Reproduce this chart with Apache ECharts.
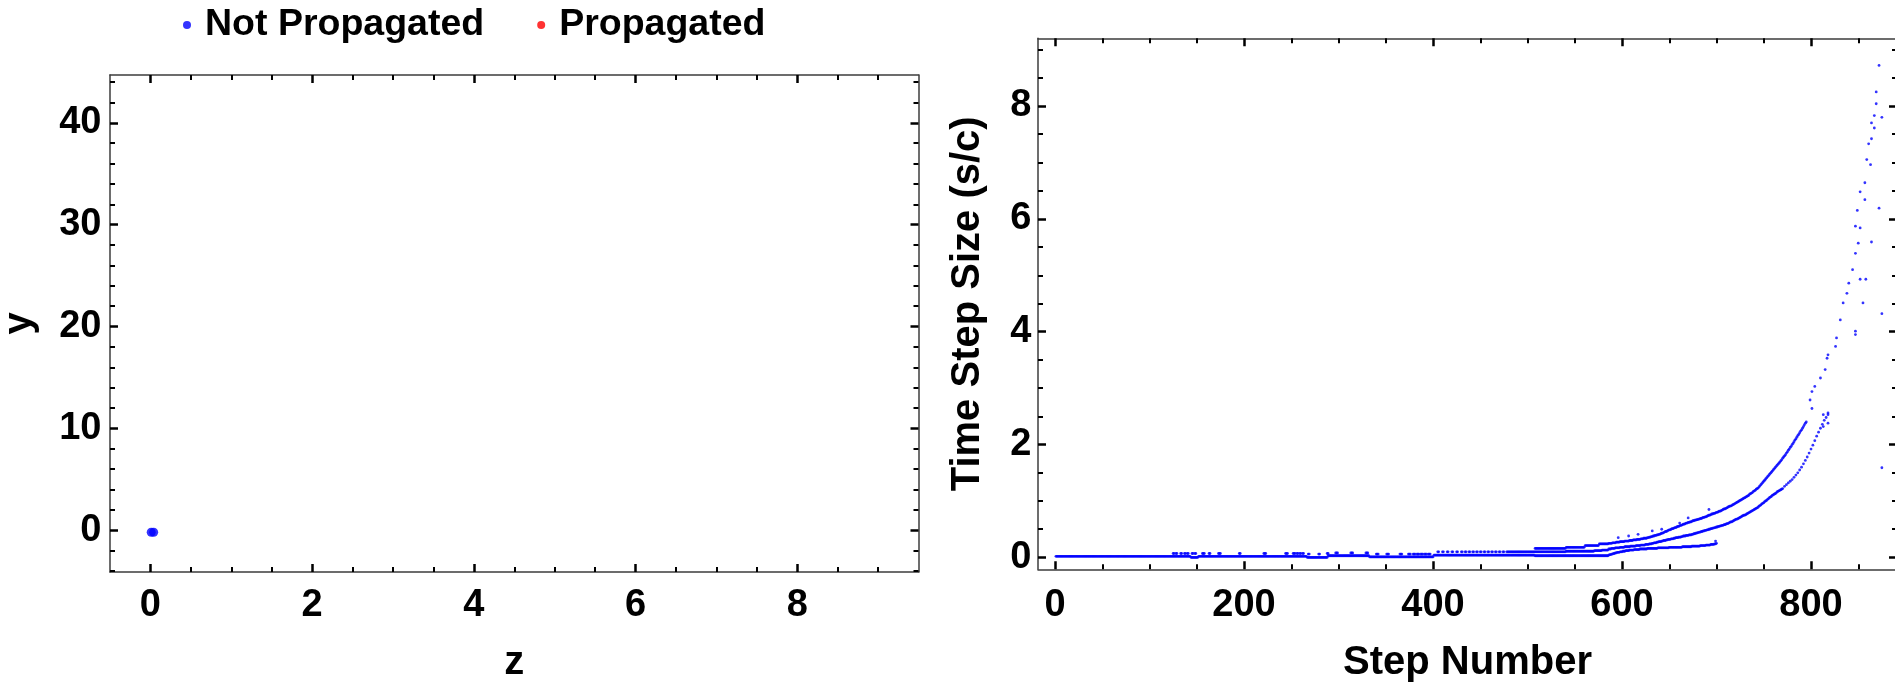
<!DOCTYPE html>
<html>
<head>
<meta charset="utf-8">
<script src="https://cdn.jsdelivr.net/npm/echarts@6/dist/echarts.min.js"></script>
<style>
  html, body { margin: 0; padding: 0; background: #ffffff; }
  #chart { width: 1895px; height: 683px; }
</style>
</head>
<body>
<div id="chart"></div>
<script>
// ---------- Left panel: particle positions ----------
const notPropagatedZ = [0.01, 0.04];
const notPropagatedY = [-0.2, -0.2];
const propagatedZ = [];
const propagatedY = [];

// ---------- Right panel: time step size per step ----------
// Stretches where the step size stays put: [first step, last step, size]
const flatRuns = [
  // base level
  [1, 143, 0.02], [144, 151, 0.0], [152, 266, 0.02], [267, 288, 0.0],
  [289, 332, 0.03], [333, 400, 0.01], [401, 507, 0.04], [508, 585, 0.03],
  // short excursions above the base level
  [125, 126, 0.07], [128, 129, 0.07], [133, 134, 0.07], [137, 138, 0.07], [140, 141, 0.07],
  [145, 146, 0.07], [148, 149, 0.07], [156, 158, 0.07], [163, 164, 0.07], [173, 175, 0.07],
  [195, 196, 0.07], [221, 223, 0.07], [244, 246, 0.07], [252, 254, 0.07], [256, 257, 0.07],
  [259, 260, 0.07], [262, 263, 0.07], [268, 269, 0.06], [279, 280, 0.06], [288, 289, 0.07],
  [297, 299, 0.08], [313, 315, 0.08], [329, 331, 0.08], [340, 342, 0.06], [351, 353, 0.06],
  [365, 367, 0.06], [374, 376, 0.06], [379, 381, 0.06], [383, 385, 0.06], [387, 389, 0.06],
  [391, 393, 0.06], [395, 397, 0.06],
  [405, 406, 0.10], [410, 411, 0.10], [415, 416, 0.10], [420, 421, 0.10], [425, 426, 0.10],
  [430, 431, 0.10], [434, 435, 0.10], [438, 439, 0.10], [442, 443, 0.10], [446, 447, 0.10],
  [450, 451, 0.10], [454, 455, 0.10], [458, 459, 0.10], [462, 463, 0.10], [466, 467, 0.10],
  [470, 471, 0.10], [474, 475, 0.10], [478, 480, 0.10],
  // second and third levels of the widening band
  [481, 540, 0.10], [541, 570, 0.11], [571, 578, 0.12], [579, 585, 0.13],
  [508, 540, 0.16], [541, 560, 0.18], [561, 575, 0.21], [576, 585, 0.24]
];

// Three diverging tracks, one value per step from trackStart onward
const trackStart = 586;
const upperSizes = [
  0.25, 0.25, 0.25, 0.25, 0.26, 0.26, 0.26, 0.26, 0.27, 0.27,
  0.27, 0.27, 0.28, 0.28, 0.28, 0.28, 0.28, 0.29, 0.29, 0.29,
  0.29, 0.29, 0.30, 0.30, 0.30, 0.30, 0.31, 0.31, 0.31, 0.31,
  0.32, 0.32, 0.32, 0.32, 0.33, 0.33, 0.33, 0.34, 0.34, 0.34,
  0.34, 0.35, 0.35, 0.36, 0.36, 0.37, 0.37, 0.38, 0.38, 0.39,
  0.39, 0.40, 0.40, 0.41, 0.41, 0.42, 0.43, 0.43, 0.44, 0.45,
  0.46, 0.46, 0.47, 0.48, 0.49, 0.49, 0.50, 0.51, 0.51, 0.52,
  0.53, 0.53, 0.54, 0.55, 0.55, 0.56, 0.57, 0.57, 0.58, 0.59,
  0.59, 0.60, 0.61, 0.61, 0.62, 0.62, 0.63, 0.63, 0.64, 0.65,
  0.65, 0.66, 0.66, 0.67, 0.67, 0.68, 0.68, 0.69, 0.69, 0.70,
  0.71, 0.71, 0.72, 0.72, 0.73, 0.74, 0.75, 0.75, 0.76, 0.77,
  0.77, 0.78, 0.78, 0.79, 0.80, 0.80, 0.81, 0.82, 0.82, 0.83,
  0.84, 0.85, 0.86, 0.86, 0.87, 0.88, 0.89, 0.90, 0.91, 0.91,
  0.92, 0.93, 0.94, 0.95, 0.96, 0.97, 0.98, 0.99, 1.00, 1.01,
  1.02, 1.03, 1.04, 1.05, 1.06, 1.07, 1.08, 1.09, 1.10, 1.12,
  1.13, 1.14, 1.15, 1.17, 1.18, 1.19, 1.21, 1.22, 1.23, 1.25,
  1.27, 1.29, 1.31, 1.33, 1.35, 1.37, 1.39, 1.41, 1.43, 1.45,
  1.47, 1.49, 1.51, 1.53, 1.55, 1.57, 1.59, 1.61, 1.63, 1.65,
  1.67, 1.69, 1.71, 1.73, 1.76, 1.78, 1.80, 1.82, 1.85, 1.87,
  1.90, 1.92, 1.95, 1.97, 2.00, 2.02, 2.05, 2.08, 2.10, 2.13,
  2.16, 2.18, 2.21, 2.24, 2.26, 2.29, 2.32, 2.35, 2.38, 2.40
];
const middleSizes = [
  0.15, 0.15, 0.15, 0.16, 0.16, 0.16, 0.16, 0.17, 0.17, 0.17,
  0.17, 0.17, 0.18, 0.18, 0.18, 0.18, 0.18, 0.19, 0.19, 0.19,
  0.19, 0.19, 0.19, 0.20, 0.20, 0.20, 0.20, 0.20, 0.20, 0.21,
  0.21, 0.21, 0.21, 0.21, 0.22, 0.22, 0.22, 0.22, 0.22, 0.23,
  0.23, 0.23, 0.23, 0.24, 0.24, 0.24, 0.25, 0.25, 0.26, 0.26,
  0.26, 0.27, 0.27, 0.28, 0.28, 0.28, 0.29, 0.29, 0.30, 0.30,
  0.30, 0.31, 0.31, 0.32, 0.32, 0.32, 0.33, 0.33, 0.33, 0.34,
  0.34, 0.35, 0.35, 0.35, 0.36, 0.36, 0.36, 0.37, 0.37, 0.38,
  0.38, 0.38, 0.39, 0.39, 0.39, 0.40, 0.40, 0.40, 0.41, 0.41,
  0.42, 0.42, 0.43, 0.43, 0.44, 0.44, 0.45, 0.45, 0.46, 0.46,
  0.47, 0.47, 0.48, 0.48, 0.49, 0.49, 0.50, 0.50, 0.51, 0.51,
  0.52, 0.52, 0.53, 0.53, 0.54, 0.54, 0.55, 0.55, 0.56, 0.56,
  0.57, 0.57, 0.58, 0.58, 0.59, 0.60, 0.60, 0.61, 0.62, 0.63,
  0.63, 0.64, 0.65, 0.66, 0.67, 0.68, 0.68, 0.69, 0.70, 0.71,
  0.72, 0.73, 0.74, 0.75, 0.75, 0.76, 0.77, 0.78, 0.79, 0.80,
  0.81, 0.82, 0.83, 0.84, 0.85, 0.86, 0.87, 0.88, 0.89, 0.91,
  0.92, 0.93, 0.95, 0.96, 0.97, 0.99, 1.00, 1.01, 1.03, 1.04,
  1.06, 1.07, 1.08, 1.10, 1.11, 1.12, 1.13, 1.14, 1.16, 1.17,
  1.18, 1.19, 1.20, 1.21, 1.22
];
const lowerSizes = [
  0.04, 0.05, 0.05, 0.06, 0.06, 0.07, 0.07, 0.08, 0.08, 0.09,
  0.09, 0.09, 0.10, 0.10, 0.10, 0.11, 0.11, 0.11, 0.12, 0.12,
  0.12, 0.12, 0.13, 0.13, 0.13, 0.13, 0.13, 0.14, 0.14, 0.14,
  0.14, 0.14, 0.14, 0.15, 0.15, 0.15, 0.15, 0.15, 0.15, 0.15,
  0.15, 0.16, 0.16, 0.16, 0.16, 0.16, 0.16, 0.16, 0.16, 0.16,
  0.16, 0.16, 0.17, 0.17, 0.17, 0.17, 0.17, 0.17, 0.17, 0.17,
  0.17, 0.17, 0.17, 0.17, 0.18, 0.18, 0.18, 0.18, 0.18, 0.18,
  0.18, 0.18, 0.18, 0.18, 0.18, 0.18, 0.18, 0.18, 0.19, 0.19,
  0.19, 0.19, 0.19, 0.19, 0.19, 0.19, 0.19, 0.19, 0.20, 0.20,
  0.20, 0.20, 0.20, 0.20, 0.20, 0.20, 0.20, 0.21, 0.21, 0.21,
  0.21, 0.21, 0.21, 0.22, 0.22, 0.22, 0.22, 0.22, 0.23, 0.23,
  0.23, 0.23, 0.24, 0.24, 0.25
];
// Sparser late part of the middle track: [step, size]
const middleTail = [
  [772, 1.26], [774, 1.29], [776, 1.32], [778, 1.35], [780, 1.38], [782, 1.42],
  [784, 1.46], [786, 1.50], [788, 1.55], [790, 1.60], [792, 1.66], [794, 1.72],
  [796, 1.78], [798, 1.85], [800, 1.92], [802, 1.99], [804, 2.07], [806, 2.15],
  [808, 2.22], [810, 2.29], [812, 2.36], [814, 2.43], [816, 2.48], [818, 2.53],
  [813, 2.53], [813, 2.32], [818, 2.56], [818, 2.38]
];
// Final steep climb of the upper track: [step, size]
const upperTail = [
  [799, 2.79], [801, 2.64], [801, 2.94], [804, 3.03], [810, 3.18], [815, 3.33],
  [817, 3.53], [818, 3.59], [826, 3.74], [827, 3.89], [831, 4.21], [834, 4.51],
  [838, 4.68], [840, 4.86], [844, 5.10], [847, 5.39], [850, 5.57], [847, 5.87],
  [852, 5.84], [849, 6.15], [857, 6.34], [852, 6.48], [857, 6.64], [859, 7.05],
  [863, 6.96], [861, 7.33], [864, 7.42], [867, 7.61], [864, 7.70], [867, 7.83],
  [875, 7.80], [869, 8.04], [869, 8.25], [872, 8.72]
];
// Isolated steps away from the tracks: [step, size]
const strayPoints = [
  [596, 0.35], [607, 0.38], [617, 0.41], [632, 0.47], [642, 0.50], [661, 0.61],
  [670, 0.70], [692, 0.85], [699, 0.29],
  [864, 5.59], [852, 4.93], [858, 4.93], [855, 4.51], [875, 4.32], [847, 4.01],
  [847, 3.95], [872, 6.19], [875, 1.59]
];

// ---------- Tick values ----------
const zMajorTicks = [0, 2, 4, 6, 8];
const zMinorTicks = [0.5, 1, 1.5, 2.5, 3, 3.5, 4.5, 5, 5.5, 6.5, 7, 7.5, 8.5, 9];
const yMajorTicks = [0, 10, 20, 30, 40];
const yMinorTicks = [-4, -2, 2, 4, 6, 8, 12, 14, 16, 18, 22, 24, 26, 28, 32, 34, 36, 38, 42, 44];
const stepMajorTicks = [0, 200, 400, 600, 800];
const stepMinorTicks = [50, 100, 150, 250, 300, 350, 450, 500, 550, 650, 700, 750, 850];
const sizeMajorTicks = [0, 2, 4, 6, 8];
const sizeMinorTicks = [0.5, 1, 1.5, 2.5, 3, 3.5, 4.5, 5, 5.5, 6.5, 7, 7.5, 8.5, 9];

// ---------- Assemble series data ----------
const leftBlue = notPropagatedZ.map((z, i) => [z, notPropagatedY[i]]);
const leftRed = propagatedZ.map((z, i) => [z, propagatedY[i]]);

const stepData = [];
flatRuns.forEach(([from, to, size]) => {
  for (let s = from; s <= to; s++) stepData.push([s, size]);
});
[upperSizes, middleSizes, lowerSizes].forEach(track => {
  track.forEach((size, i) => stepData.push([trackStart + i, size]));
});
middleTail.concat(upperTail, strayPoints).forEach(p => stepData.push(p));

// ---------- Styling helpers ----------
const FONT = '"Liberation Sans", Arial, Helvetica, sans-serif';
const FRAME = '#3c3c3c';

function frameAxis(gridIndex, position, range, ticks, opts) {
  const o = opts || {};
  return {
    type: 'value',
    gridIndex: gridIndex,
    position: position,
    min: range[0],
    max: range[1],
    name: o.name || '',
    nameLocation: 'middle',
    nameGap: o.nameGap || 0,
    nameRotate: o.nameRotate,
    nameTextStyle: {
      fontFamily: FONT, fontWeight: 'bold', fontSize: 40, color: '#000'
    },
    axisLine: {
      show: !!o.line, onZero: false,
      lineStyle: { color: FRAME, width: 1.5 }
    },
    axisTick: {
      show: true, inside: true, length: o.minor ? 5 : 8,
      customValues: ticks,
      lineStyle: { color: '#000', width: o.minor ? 2 : 2.5 }
    },
    minorTick: { show: false },
    splitLine: { show: false },
    axisLabel: o.labels ? {
      show: true, customValues: ticks, margin: o.margin,
      fontFamily: FONT, fontWeight: 'bold', fontSize: 38, color: '#000',
      formatter: v => String(v)
    } : { show: false },
    axisPointer: { show: false },
    silent: true
  };
}

const zRange = [-0.5, 9.5];
const yRange = [-4.1, 44.7];
const stepRange = [-18, 891];
const sizeRange = [-0.21, 9.2];

const option = {
  backgroundColor: '#ffffff',
  animation: false,
  legend: {
    data: ['Not Propagated', 'Propagated'],
    left: 183, top: 6, padding: 0,
    itemGap: 53, itemWidth: 26, itemHeight: 8,
    icon: 'circle',
    selectedMode: false,
    textStyle: { fontFamily: FONT, fontWeight: 'bold', fontSize: 37.5, color: '#000' }
  },
  grid: [
    { left: 110, top: 75, width: 808.5, height: 497, outerBoundsMode: 'none', containLabel: false },
    { left: 1038, top: 38.3, width: 859, height: 531, outerBoundsMode: 'none', containLabel: false }
  ],
  xAxis: [
    frameAxis(0, 'bottom', zRange, zMajorTicks, { line: true, labels: true, margin: 15, name: 'z', nameGap: 71 }),
    frameAxis(0, 'bottom', zRange, zMinorTicks, { minor: true }),
    frameAxis(0, 'top', zRange, zMajorTicks, { line: true }),
    frameAxis(0, 'top', zRange, zMinorTicks, { minor: true }),
    frameAxis(1, 'bottom', stepRange, stepMajorTicks, { line: true, labels: true, margin: 17, name: 'Step Number', nameGap: 74 }),
    frameAxis(1, 'bottom', stepRange, stepMinorTicks, { minor: true }),
    frameAxis(1, 'top', stepRange, stepMajorTicks, { line: true }),
    frameAxis(1, 'top', stepRange, stepMinorTicks, { minor: true })
  ],
  yAxis: [
    frameAxis(0, 'left', yRange, yMajorTicks, { line: true, labels: true, margin: 8.5, name: 'y', nameGap: 70, nameRotate: 90 }),
    frameAxis(0, 'left', yRange, yMinorTicks, { minor: true }),
    frameAxis(0, 'right', yRange, yMajorTicks, { line: true }),
    frameAxis(0, 'right', yRange, yMinorTicks, { minor: true }),
    frameAxis(1, 'left', sizeRange, sizeMajorTicks, { line: true, labels: true, margin: 6.5, name: 'Time Step Size (s/c)', nameGap: 50, nameRotate: 90 }),
    frameAxis(1, 'left', sizeRange, sizeMinorTicks, { minor: true }),
    frameAxis(1, 'right', sizeRange, sizeMajorTicks, { line: true }),
    frameAxis(1, 'right', sizeRange, sizeMinorTicks, { minor: true })
  ],
  series: [
    {
      name: 'Not Propagated', type: 'scatter', xAxisIndex: 0, yAxisIndex: 0,
      symbol: 'circle', symbolSize: 9, data: leftBlue,
      itemStyle: { color: '#0000ff' }, emphasis: { disabled: true }, silent: true
    },
    {
      name: 'Propagated', type: 'scatter', xAxisIndex: 0, yAxisIndex: 0,
      symbol: 'circle', symbolSize: 9, data: leftRed,
      itemStyle: { color: '#ff0000' }, emphasis: { disabled: true }, silent: true
    },
    {
      name: 'Time Step Size', type: 'scatter', xAxisIndex: 4, yAxisIndex: 4,
      symbol: 'circle', symbolSize: 2.8, data: stepData, large: false,
      itemStyle: { color: '#0000ff' }, emphasis: { disabled: true }, silent: true
    }
  ]
};

const chart = echarts.init(document.getElementById('chart'), null, { renderer: 'canvas', devicePixelRatio: 1 });
chart.setOption(option);
</script>
</body>
</html>
